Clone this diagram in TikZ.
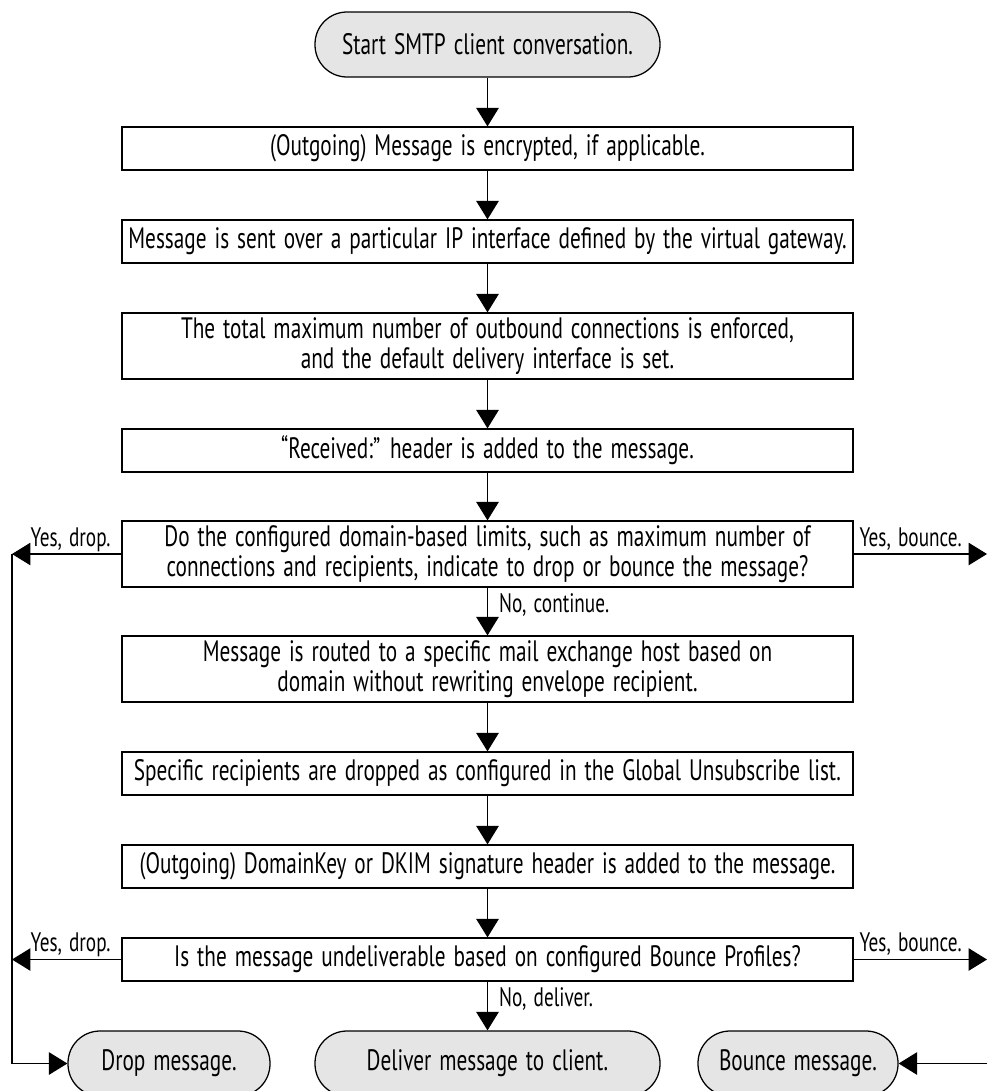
\documentclass[tikz,border=0pt]{standalone}
\usepackage{fontspec}
\setmainfont{PT Sans}[FakeStretch=0.72,WordSpace=1.4]
\usepackage{tikz}
\usetikzlibrary{arrows.meta}
\tikzset{stepbox/.style={draw,line width=0.9pt,fill=white,minimum width=18.275cm,minimum height=1.075cm,align=center,inner sep=2pt,font=\fontsize{21}{21.5}\selectfont}}
\tikzset{endbox/.style={draw,line width=0.9pt,fill=black!10,rounded corners=0.8cm,minimum height=1.625cm,align=center,font=\fontsize{21}{21.5}\selectfont}}
\tikzset{flow/.style={-{Triangle[length=4.6mm,width=5.6mm]},line width=0.8pt}}
\tikzset{lbl/.style={inner sep=1pt,font=\fontsize{19}{20}\selectfont}}

\begin{document}
\begin{tikzpicture}
            \useasboundingbox (0,0) rectangle (24.675,-27.275);
            % the steps, top to bottom
            \node[endbox,minimum width=8.625cm] (start) at (12.1875,-1.1125) {Start SMTP client conversation.};
            \node[stepbox] (encrypt) at (12.1875,-3.7125) {(Outgoing) Message is encrypted, if applicable.};
            \node[stepbox] (iface) at (12.1875,-6.0375) {Message is sent over a particular IP interface defined by the virtual gateway.};
            \node[stepbox,minimum height=1.65cm] (limit) at (12.1875,-8.65) {The total maximum number of outbound connections is enforced,\\ and the default delivery interface is set.};
            \node[stepbox] (recvd) at (12.1875,-11.2625) {“Received:” header is added to the message.};
            \node[stepbox,minimum height=1.65cm] (domchk) at (12.1875,-13.85) {Do the configured domain-based limits, such as maximum number of\\ connections and recipients, indicate to drop or bounce the message?};
            \node[stepbox,minimum height=1.65cm] (route) at (12.1875,-16.725) {Message is routed to a specific mail exchange host based on\\ domain without rewriting envelope recipient.};
            \node[stepbox] (unsub) at (12.1875,-19.3375) {Specific recipients are dropped as configured in the Global Unsubscribe list.};
            \node[stepbox] (dkim) at (12.1875,-21.6625) {(Outgoing) DomainKey or DKIM signature header is added to the message.};
            \node[stepbox] (bncchk) at (12.1875,-23.9875) {Is the message undeliverable based on configured Bounce Profiles?};
            % the three ends
            \node[endbox,minimum width=5.05cm] (drop) at (4.225,-26.5875) {Drop message.};
            \node[endbox,minimum width=8.625cm] (deliver) at (12.1875,-26.5875) {Deliver message to client.};
            \node[endbox,minimum width=5cm] (bounce) at (19.95,-26.5875) {Bounce message.};
            \coordinate (lft) at (0.3,0);
            \coordinate (rgt) at (24.675,0);

            % main flow
            \draw[flow] (start) -- (encrypt);
            \draw[flow] (encrypt) -- (iface);
            \draw[flow] (iface) -- (limit);
            \draw[flow] (limit) -- (recvd);
            \draw[flow] (recvd) -- (domchk);
            \draw[flow] (domchk) -- (route);
            \draw[flow] (route) -- (unsub);
            \draw[flow] (unsub) -- (dkim);
            \draw[flow] (dkim) -- (bncchk);
            \draw[flow] (bncchk) -- (deliver);
            \node[lbl,anchor=north west] at ([xshift=2.5mm,yshift=-1mm]domchk.south) {No, continue.};
            \node[lbl,anchor=north west] at ([xshift=2.5mm,yshift=-1mm]bncchk.south) {No, deliver.};

            % drop side
            \draw[flow] (domchk.west) -- (domchk.west -| lft) node[lbl,pos=0,anchor=base east,xshift=-2.2mm,yshift=2mm] {Yes, drop.};
            \draw[flow] (bncchk.west) -- (bncchk.west -| lft) node[lbl,pos=0,anchor=base east,xshift=-2.2mm,yshift=2mm] {Yes, drop.};
            \draw[flow] (domchk.west -| lft) |- (drop.west);

            % bounce side
            \draw[flow] (domchk.east) -- (domchk.east -| rgt) node[lbl,pos=0,anchor=base west,xshift=1mm,yshift=2mm] {Yes, bounce.};
            \draw[flow] (bncchk.east) -- (bncchk.east -| rgt) node[lbl,pos=0,anchor=base west,xshift=1mm,yshift=2mm] {Yes, bounce.};
            \draw[flow] (rgt |- bounce.east) -- (bounce.east);
        \end{tikzpicture}
\end{document}
